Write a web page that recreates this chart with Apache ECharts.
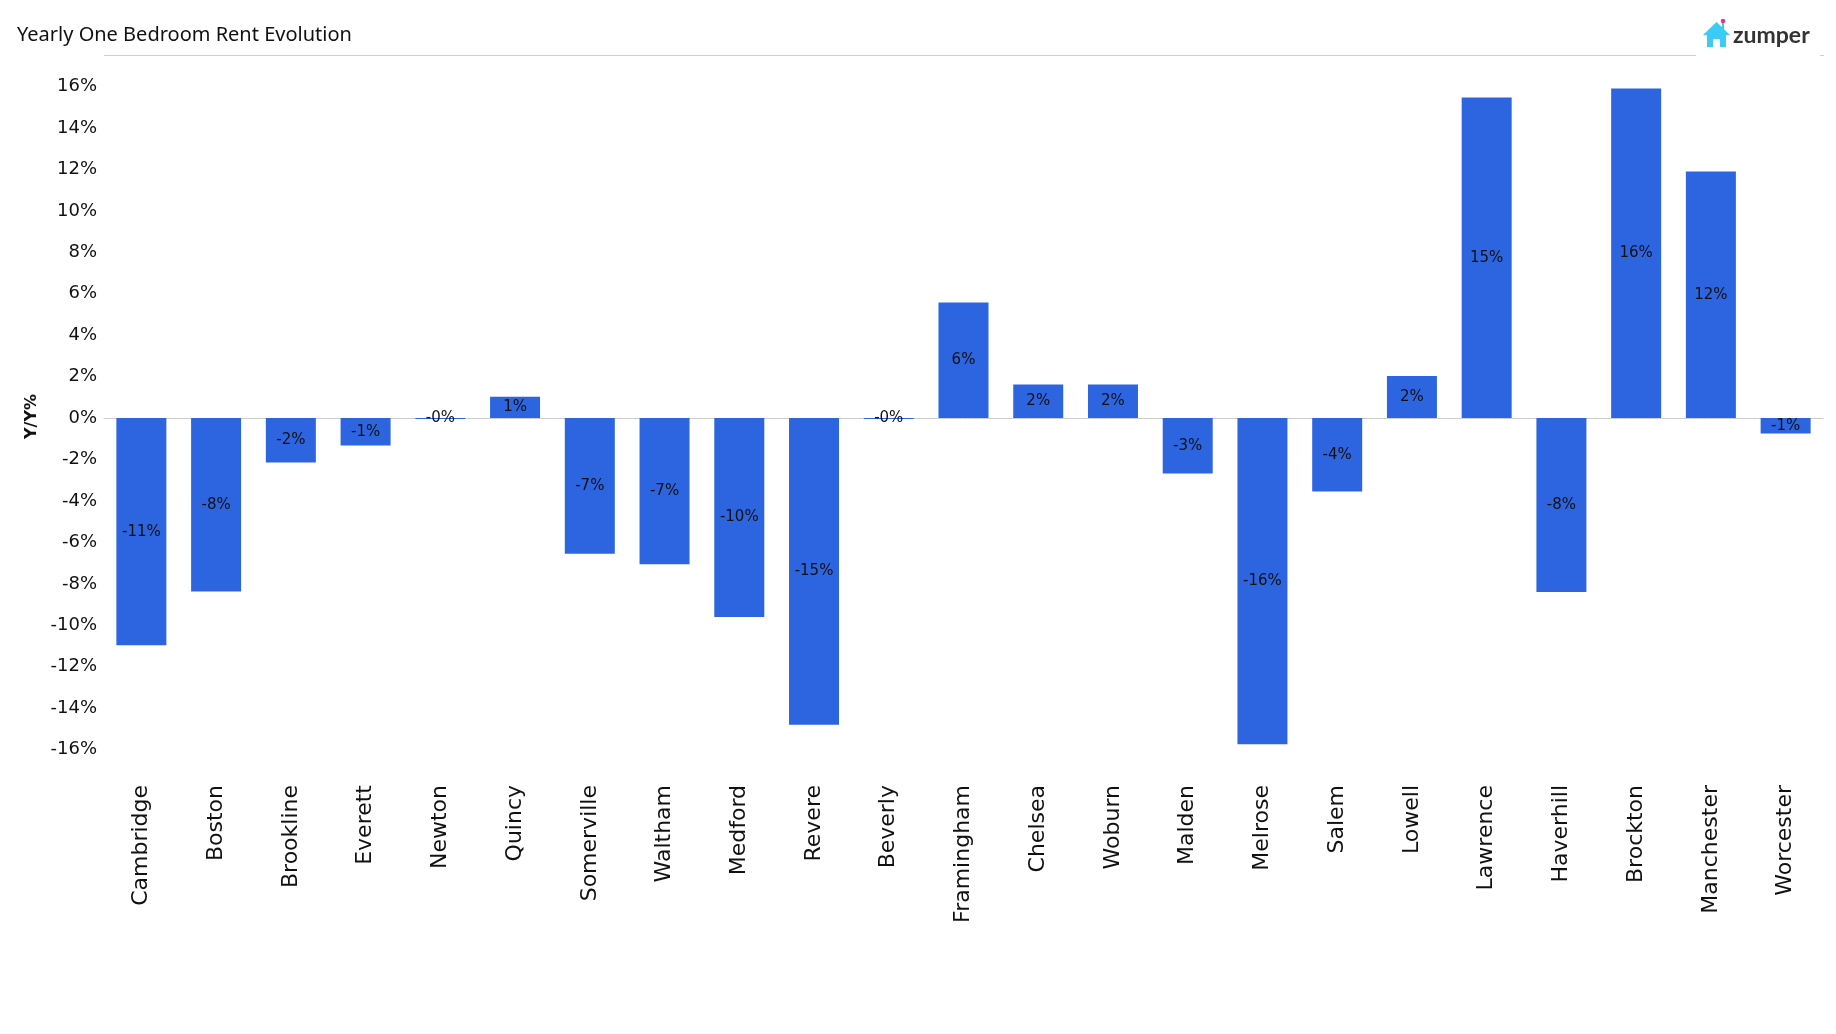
<!DOCTYPE html>
<html>
<head>
<meta charset="utf-8">
<script src="https://cdn.jsdelivr.net/npm/echarts@6/dist/echarts.min.js"></script>
<style>
html,body{margin:0;padding:0;background:#fff;}
#chart{width:1836px;height:1034px;}
</style>
</head>
<body>
<div id="chart"></div>
<script>
const cities = ["Cambridge","Boston","Brookline","Everett","Newton","Quincy","Somerville","Waltham","Medford","Revere","Beverly","Framingham","Chelsea","Woburn","Malden","Melrose","Salem","Lowell","Lawrence","Haverhill","Brockton","Manchester","Worcester"];
const yoyChange = [-10.96,-8.37,-2.14,-1.32,-0.05,1.03,-6.55,-7.05,-9.6,-14.8,-0.05,5.58,1.62,1.62,-2.68,-15.74,-3.55,2.03,15.47,-8.4,15.9,11.9,-0.74];
const yTicks = [-16,-14,-12,-10,-8,-6,-4,-2,0,2,4,6,8,10,12,14,16];
const titleText = "Yearly One Bedroom Rent Evolution";
const yAxisName = "Y/Y%";

const chart = echarts.init(document.getElementById('chart'));
const fmt = v => (v < 0 ? '-' : '') + Math.round(Math.abs(v)) + '%';

chart.setOption({
  animation: false,
  backgroundColor: '#fff',
  grid: {left: 104, right: 13, top: 55, bottom: 256, containLabel: false},
  xAxis: {
    type: 'category',
    data: cities,
    axisLine: {show: true, lineStyle: {color: '#cfcfcf', width: 1}},
    axisTick: {show: false},
    axisLabel: {interval: 0, rotate: 90, margin: 7, fontFamily: 'DejaVu Sans', fontSize: 22, color: '#111'}
  },
  yAxis: {
    type: 'value',
    min: -17.37,
    max: 17.52,
    name: yAxisName,
    nameLocation: 'middle',
    nameGap: 54,
    nameTextStyle: {fontFamily: 'DejaVu Sans', fontSize: 16, fontWeight: 'bold', color: '#111'},
    axisLine: {show: false},
    axisTick: {show: false},
    splitLine: {show: false},
    axisLabel: {
      customValues: yTicks,
      formatter: v => Math.round(v) + '%',
      margin: 7,
      fontFamily: 'DejaVu Sans',
      fontSize: 18,
      color: '#111'
    }
  },
  series: [
    {
      type: 'line',
      data: [],
      z: 1,
      silent: true,
      markLine: {
        z: 1,
        silent: true,
        symbol: 'none',
        label: {show: false},
        lineStyle: {color: '#c8c8c8', type: [2, 3], width: 1},
        data: [{yAxis: 0}]
      }
    },
    {
      type: 'bar',
      data: yoyChange,
      z: 3,
      barWidth: 50,
      itemStyle: {color: '#2D65E1'},
      label: {
        show: true,
        position: 'inside',
        formatter: p => fmt(p.value),
        fontFamily: 'DejaVu Sans',
        fontSize: 15,
        color: '#111'
      }
    }
  ],
  graphic: [
    {type: 'text', left: 17, top: 25, style: {text: titleText, fontFamily: 'Noto Sans', fontSize: 20, fill: '#111'}},
    {type: 'line', shape: {x1: 104, y1: 55.5, x2: 1696, y2: 55.5}, style: {stroke: '#cfcfcf', lineWidth: 1}},
    {type: 'line', shape: {x1: 1820, y1: 55.5, x2: 1824, y2: 55.5}, style: {stroke: '#cfcfcf', lineWidth: 1}},
    {type: 'polygon', shape: {points: [[1716.5,22],[1703,35],[1707,35],[1707,47],[1713,47],[1713,39],[1720,39],[1720,47],[1726,47],[1726,35],[1730,35]]}, style: {fill: '#3CCBF4'}},
    {type: 'rect', shape: {x: 1722, y: 23, width: 2, height: 6}, style: {fill: '#3CCBF4'}},
    {type: 'circle', shape: {cx: 1723, cy: 21, r: 2.3}, style: {fill: '#F0308A'}},
    {type: 'text', left: 1733, top: 24, style: {text: 'zumper', fontFamily: 'Lato', fontWeight: 'bold', fontSize: 23, fill: '#333'}}
  ]
});
</script>
</body>
</html>
